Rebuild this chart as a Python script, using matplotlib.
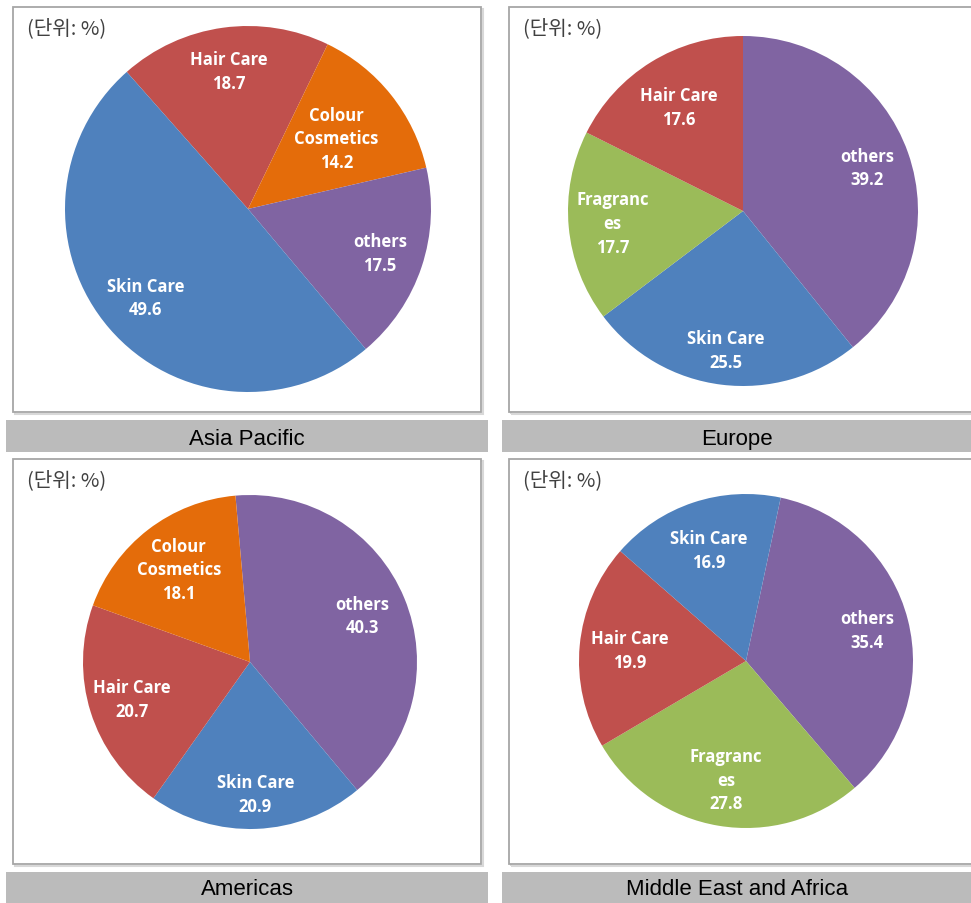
import numpy as np
import matplotlib
matplotlib.use("Agg")
import matplotlib.pyplot as plt
from matplotlib.patches import Rectangle

# ---------------- data ----------------
regions = ["Asia Pacific", "Europe", "Americas", "Middle East and Africa"]

asia_labels = ["Hair Care", "Colour\nCosmetics", "others", "Skin Care"]
asia_values = [18.7, 14.2, 17.5, 49.6]

europe_labels = ["others", "Skin Care", "Fragranc\nes", "Hair Care"]
europe_values = [39.2, 25.5, 17.7, 17.6]

americas_labels = ["others", "Skin Care", "Hair Care", "Colour\nCosmetics"]
americas_values = [40.3, 20.9, 20.7, 18.1]

mea_labels = ["others", "Fragranc\nes", "Hair Care", "Skin Care"]
mea_values = [35.4, 27.8, 19.9, 16.9]

unit_text = "(단위: %)"

# ---------------- styles ----------------
colors = {
    "Skin Care": "#4F81BD",
    "Hair Care": "#C0504D",
    "Colour\nCosmetics": "#E46C0A",
    "others": "#8064A2",
    "Fragranc\nes": "#9BBB59",
}

W, H = 971, 904
fig = plt.figure(figsize=(W / 100, H / 100), dpi=100)
fig.patch.set_facecolor("white")

def px_rect(x0, y0, x1, y1, **kw):
    fig.patches.append(Rectangle((x0 / W, 1 - y1 / H), (x1 - x0) / W, (y1 - y0) / H,
                                 transform=fig.transFigure, figure=fig, zorder=-5, **kw))

panels = [
    dict(labels=asia_labels, values=asia_values, box=(13, 8, 481, 413), bar=(6, 421, 488, 453),
         c=(248, 210), r=183, start=131.5, ld=[0.76, 0.62, 0.76, 0.74]),
    dict(labels=europe_labels, values=europe_values, box=(509, 8, 980, 413), bar=(502, 421, 980, 453),
         c=(743, 212), r=175, start=90, ld=[0.75, 0.80, 0.75, 0.70]),
    dict(labels=americas_labels, values=americas_values, box=(13, 460, 481, 865), bar=(6, 873, 488, 910),
         c=(250, 663), r=167, start=95, ld=[0.73, 0.79, 0.74, 0.70]),
    dict(labels=mea_labels, values=mea_values, box=(509, 460, 980, 865), bar=(502, 873, 980, 910),
         c=(746, 662), r=167, start=78, ld=[0.75, 0.72, 0.70, 0.70]),
]

bar_baselines = [(247, 445), (737, 445), (247, 895), (737, 895)]

for name, p, bc in zip(regions, panels, bar_baselines):
    x0, y0, x1, y1 = p["box"]
    px_rect(x0 + 1.5, y0 + 1.5, x1 + 1.5, y1 + 1.5, facecolor="none", edgecolor="#d8d8d8", linewidth=1.5)
    px_rect(x0, y0, x1, y1, facecolor="white", edgecolor="#a6a6a6", linewidth=1.3)
    fig.text((x0 + 14) / W, 1 - (y0 + 21) / H, unit_text, ha="left", va="center",
             fontsize=14.5, color="#404040", family=["Noto Sans CJK KR", "DejaVu Sans"])
    bx0, by0, bx1, by1 = p["bar"]
    px_rect(bx0, by0, bx1, by1, facecolor="#BBBBBB", edgecolor="none")
    fig.text(bc[0] / W, 1 - bc[1] / H, name,
             ha="center", va="baseline", fontsize=16, color="black", family="Liberation Sans")

    cx, cy = p["c"]
    r = p["r"]
    ax = fig.add_axes([(cx - r) / W, 1 - (cy + r) / H, 2 * r / W, 2 * r / H])
    ax.set_zorder(5)
    wedges, _ = ax.pie(p["values"], colors=[colors[l] for l in p["labels"]],
                       startangle=p["start"], counterclock=False, radius=1.0,
                       wedgeprops=dict(linewidth=0))
    ax.set_xlim(-1, 1)
    ax.set_ylim(-1, 1)
    ax.set_aspect("equal")
    ax.axis("off")
    for w, lab, val, d in zip(wedges, p["labels"], p["values"], p["ld"]):
        mid = np.deg2rad((w.theta1 + w.theta2) / 2)
        ax.text(d * np.cos(mid), d * np.sin(mid), f"{lab}\n{val}", ha="center", va="center",
                color="white", fontsize=12, fontweight="bold", family="Open Sans",
                linespacing=1.4)

fig.savefig("out.png", dpi=100)
